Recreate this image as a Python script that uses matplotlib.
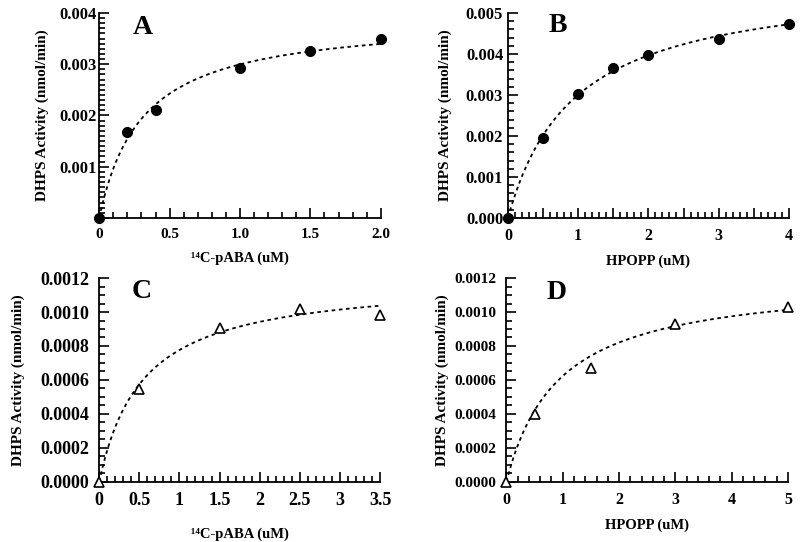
import matplotlib
matplotlib.use("Agg")
import matplotlib.pyplot as plt
import numpy as np
from matplotlib.ticker import MultipleLocator

plt.rcParams["font.family"] = ["Liberation Serif", "DejaVu Serif"]
plt.rcParams["font.weight"] = "bold"

# panel A: 14C-pABA, filled circles
a_x = [0, 0.2, 0.4, 1.0, 1.5, 2.0]
a_y = [0, 0.00168, 0.00210, 0.00293, 0.00326, 0.00350]
a_vmax, a_km = 0.00392, 0.308

# panel B: HPOPP, filled circles
b_x = [0, 0.5, 1.0, 1.5, 2.0, 3.0, 4.0]
b_y = [0, 0.00195, 0.00302, 0.00367, 0.00397, 0.00436, 0.00474]
b_vmax, b_km = 0.00584, 0.945

# panel C: 14C-pABA, open triangles
c_x = [0, 0.5, 1.5, 2.5, 3.5]
c_y = [0, 0.000545, 0.000905, 0.00102, 0.00098]
c_vmax, c_km = 0.001198, 0.543

# panel D: HPOPP, open triangles
d_x = [0, 0.5, 1.5, 3.0, 5.0]
d_y = [0, 0.000397, 0.000669, 0.000932, 0.001027]
d_vmax, d_km = 0.001201, 0.928

ylabel = "DHPS Activity (nmol/min)"
paba_label = "\u00b9\u2074C-pABA (uM)"
hpopp_label = "HPOPP (uM)"

a_xticks = [0, 0.5, 1.0, 1.5, 2.0]
a_xticklabels = ["0", "0.5", "1.0", "1.5", "2.0"]
b_xticks = [0, 0.5, 1, 1.5, 2, 2.5, 3, 3.5, 4]
b_xticklabels = ["0", "", "1", "", "2", "", "3", "", "4"]
c_xticks = [0, 0.5, 1, 1.5, 2, 2.5, 3, 3.5]
c_xticklabels = ["0", "0.5", "1", "1.5", "2", "2.5", "3", "3.5"]
d_xticks = [0, 1, 2, 3, 4, 5]
d_xticklabels = ["0", "1", "2", "3", "4", "5"]

fig = plt.figure(figsize=(8, 5.42), dpi=100)

panels = [
    dict(rect=[0.124, 0.598, 0.352, 0.378], x=a_x, y=a_y, vmax=a_vmax, km=a_km,
         xmax=2.0, ymax=0.004, xt=a_xticks, xtl=a_xticklabels, xminor=0.1,
         ymaj=0.001, yminor=0.0001, yfmt="%.3f", filled=True, xlabel=paba_label,
         letter="A", lpos=(0.12, 0.99), tsize=12, xtsize=11, ypad=1.5, xpad=7,
         xlp=8, ylp=8),
    dict(rect=[0.635, 0.598, 0.351, 0.378], x=b_x, y=b_y, vmax=b_vmax, km=b_km,
         xmax=4.0, ymax=0.005, xt=b_xticks, xtl=b_xticklabels, xminor=0.1,
         ymaj=0.001, yminor=0.0002, yfmt="%.3f", filled=True, xlabel=hpopp_label,
         letter="B", lpos=(0.143, 1.0), tsize=12, xtsize=11.5, ypad=3.5, xpad=7,
         xlp=8, ylp=10),
    dict(rect=[0.124, 0.111, 0.351, 0.376], x=c_x, y=c_y, vmax=c_vmax, km=c_km,
         xmax=3.5, ymax=0.0012, xt=c_xticks, xtl=c_xticklabels, xminor=0.1,
         ymaj=0.0002, yminor=0.00005, yfmt="%.4f", filled=False, xlabel=paba_label,
         letter="C", lpos=(0.117, 0.995), tsize=13, xtsize=13, ypad=7, xpad=7,
         xlp=14, ylp=11),
    dict(rect=[0.633, 0.111, 0.352, 0.376], x=d_x, y=d_y, vmax=d_vmax, km=d_km,
         xmax=5.0, ymax=0.0012, xt=d_xticks, xtl=d_xticklabels, xminor=0.2,
         ymaj=0.0002, yminor=0.00005, yfmt="%.4f", filled=False, xlabel=hpopp_label,
         letter="D", lpos=(0.142, 0.99), tsize=11, xtsize=11.5, ypad=7, xpad=7,
         xlp=8, ylp=4),
]

for p in panels:
    ax = fig.add_axes(p["rect"])
    # fitted Michaelis-Menten curve
    xf = np.linspace(0, p["xmax"], 200)
    ax.plot(xf, p["vmax"] * xf / (p["km"] + xf), color="black", lw=1.3,
            linestyle=(0, (2, 2)), clip_on=False)
    if p["filled"]:
        ax.plot(p["x"], p["y"], "o", color="black", ms=7, clip_on=False, zorder=5)
    else:
        ax.plot(p["x"], p["y"], "^", mfc="white", mec="black", mew=1.2, ms=7,
                clip_on=False, zorder=5)
    ax.set_xlim(0, p["xmax"])
    ax.set_ylim(0, p["ymax"])
    for s in ["top", "right"]:
        ax.spines[s].set_visible(False)
    for s in ["left", "bottom"]:
        ax.spines[s].set_linewidth(1.3)

    ax.set_xticks(p["xt"])
    ax.set_xticklabels(p["xtl"])
    ax.xaxis.set_minor_locator(MultipleLocator(p["xminor"]))
    yt = np.arange(0, p["ymax"] + 1e-12, p["ymaj"])
    ylabels = [p["yfmt"] % v for v in yt]
    if p["letter"] == "A":
        ylabels[0] = ""
    ax.set_yticks(yt)
    ax.set_yticklabels(ylabels)
    ax.yaxis.set_minor_locator(MultipleLocator(p["yminor"]))

    ax.tick_params(which="both", direction="in", width=1.2)
    ax.tick_params(which="major", length=7)
    ax.tick_params(which="minor", length=4)
    ax.tick_params(axis="y", labelsize=p["tsize"], pad=p["ypad"])
    ax.tick_params(axis="x", labelsize=p["xtsize"], pad=p["xpad"])
    for lbl in ax.get_xticklabels() + ax.get_yticklabels():
        lbl.set_fontweight("bold")

    ax.set_xlabel(p["xlabel"], fontsize=10.5, fontweight="bold", labelpad=p["xlp"])
    ax.set_ylabel(ylabel, fontsize=11, fontweight="bold", labelpad=p["ylp"])
    ax.text(p["lpos"][0], p["lpos"][1], p["letter"], transform=ax.transAxes,
            fontsize=20, fontweight="bold", va="top", ha="left")

fig.savefig("out.png", dpi=100)
